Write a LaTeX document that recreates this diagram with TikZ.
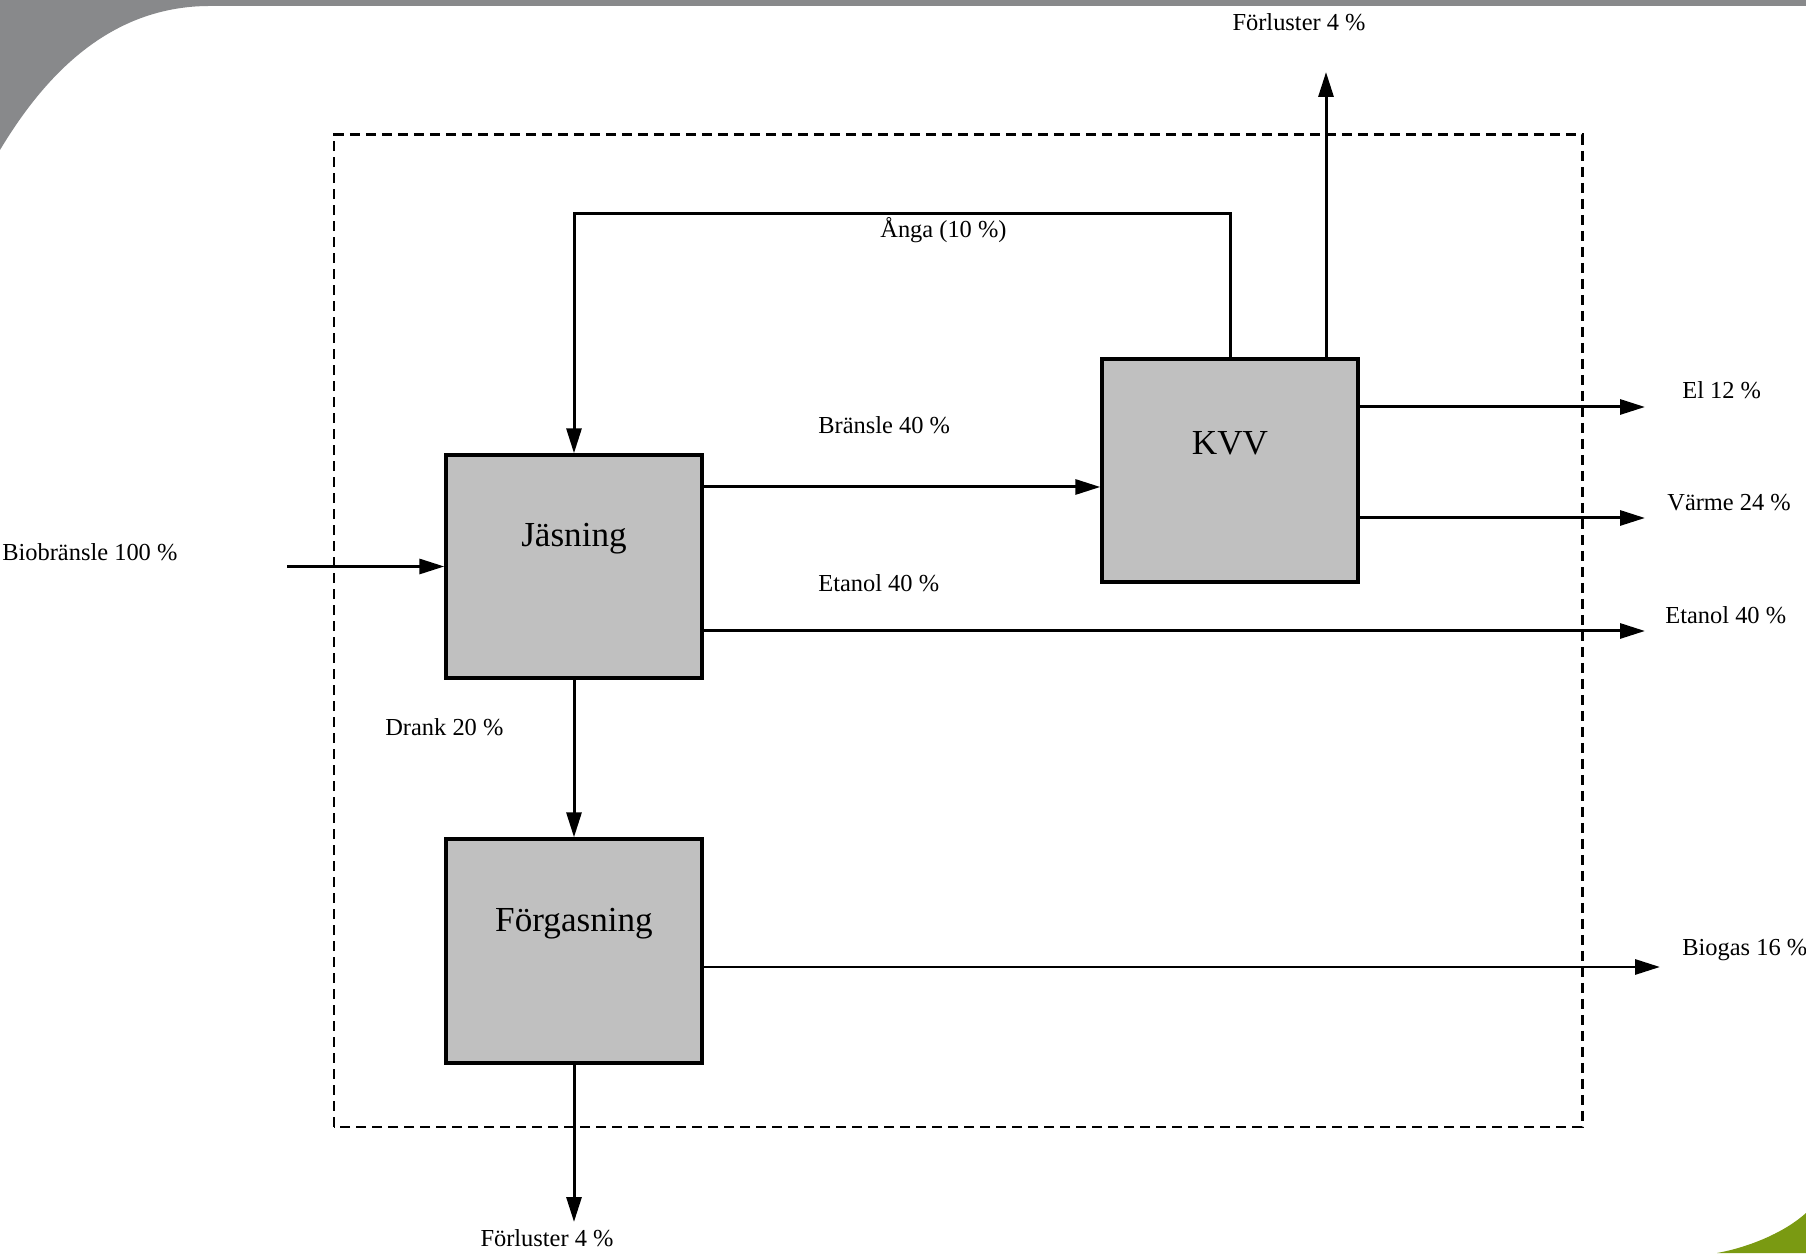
\documentclass[tikz,border=0pt]{standalone}
\usepackage{fontspec}
\setmainfont{Liberation Serif}
\usetikzlibrary{arrows.meta,calc}
\definecolor{boxgray}{HTML}{C0C0C0}
\definecolor{bandgray}{HTML}{88898B}
\definecolor{leafgreen}{HTML}{7A9A12}
\tikzset{
  process/.style={draw=black, line width=1.9pt, fill=boxgray, inner sep=0pt,
    minimum width=5.12cm, minimum height=4.46cm},
  flow/.style={line width=1.7pt, -{Triangle[length=0.5cm,width=0.3cm]}},
  lbl/.style={font=\fontsize{13.9}{16}\selectfont, inner sep=0pt},
  boxtitle/.style={font=\fontsize{20}{24}\selectfont, inner sep=0pt, yshift=0.55cm}
}
\begin{document}
\begin{tikzpicture}
  \useasboundingbox (0cm,0cm) rectangle (36.12cm,25.06cm);
  \fill[bandgray] (0,24.94) rectangle (36.12,25.06);
  \fill[bandgray] (0,22.06) .. controls (0.9,23.56) and (2.2,24.94) .. (4.2,24.94)
    -- (4.2,25.06) -- (0,25.06) -- cycle;
  \fill[leafgreen] (34.34,0) .. controls (35.0,0.12) and (35.7,0.42) .. (36.12,0.80)
    -- (36.12,0) -- cycle;

  \draw[line width=1.7pt, dash pattern=on 0.2cm off 0.12cm] (6.68cm,2.52cm) rectangle (31.64cm,22.36cm);

  \node[process, label={[boxtitle]center:Jäsning}] (jas) at (11.48cm,13.73cm) {};
  \node[process, label={[boxtitle]center:KVV}] (kvv) at (24.60cm,15.65cm) {};
  \node[process, minimum height=4.48cm, label={[boxtitle]center:Förgasning}] (fg) at (11.48cm,6.04cm) {};

  \coordinate (bioin) at (5.74cm,13.73cm);
  \coordinate (elout) at (32.90cm,16.92cm);
  \coordinate (varmeout) at (32.90cm,14.70cm);
  \coordinate (etout) at (32.90cm,12.44cm);
  \coordinate (bgout) at (33.20cm,5.72cm);
  \coordinate (lossup) at (26.52cm,23.62cm);
  \coordinate (lossdown) at (11.48cm,0.62cm);

  \draw[flow] (bioin) -- (jas.west);
  \draw[flow] ([yshift=1.59cm]jas.east) -- ([yshift=1.59cm]jas.east -| kvv.west);
  \draw[flow] (jas.east |- etout) -- (etout);
  \draw[flow] (kvv.east |- elout) -- (elout);
  \draw[flow] (kvv.east |- varmeout) -- (varmeout);
  \draw[flow] (fg.east |- bgout) -- (bgout);
  \draw[flow] (kvv.north) -- ++(0,2.88) -| (jas.north);
  \draw[flow] (kvv.north -| lossup) -- (lossup);
  \draw[flow] (jas.south) -- (fg.north);
  \draw[flow] (fg.south) -- (lossdown);

  \node[lbl, anchor=west] (biolbl) at (0.04cm,14.02cm) {Biobränsle 100 \%};
  \node[lbl, anchor=west] (branslelbl) at (16.36cm,16.56cm) {Bränsle 40 \%};
  \node[lbl, anchor=west] (etlbl) at (16.36cm,13.40cm) {Etanol 40 \%};
  \node[lbl, anchor=west] (angalbl) at (17.60cm,20.46cm) {Ånga (10 \%)};
  \node[lbl, anchor=west] (dranklbl) at (7.70cm,10.52cm) {Drank 20 \%};
  \node[lbl] (lossuplbl) at (25.98cm,24.62cm) {Förluster 4 \%};
  \node[lbl] (lossdownlbl) at (10.94cm,0.30cm) {Förluster 4 \%};
  \node[lbl, anchor=west] (ellbl) at (33.64cm,17.26cm) {El 12 \%};
  \node[lbl, anchor=west] (varmelbl) at (33.34cm,15.00cm) {Värme 24 \%};
  \node[lbl, anchor=west] (etoutlbl) at (33.30cm,12.76cm) {Etanol 40 \%};
  \node[lbl, anchor=west] (bglbl) at (33.64cm,6.06cm) {Biogas 16 \%};
\end{tikzpicture}
\end{document}
